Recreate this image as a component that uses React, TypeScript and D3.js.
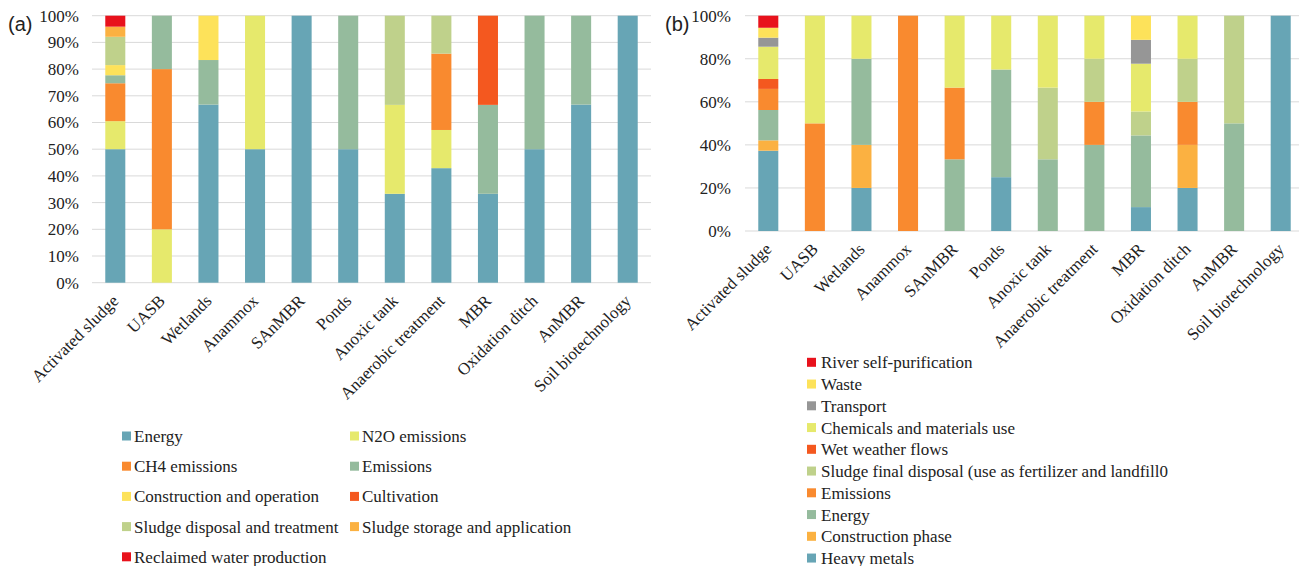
import React from "react";
import * as d3 from "d3";

const categories = [
  "Activated sludge", "UASB", "Wetlands", "Anammox", "SAnMBR", "Ponds",
  "Anoxic tank", "Anaerobic treatment", "MBR", "Oxidation ditch", "AnMBR", "Soil biotechnology",
];

// Panel (a) series, bottom to top
const aEnergy = [50, 0, 66.7, 50, 100, 50, 33.3, 42.9, 33.3, 50, 66.7, 100];
const aN2O = [10.5, 20, 0, 50, 0, 0, 33.3, 14.3, 0, 0, 0, 0];
const aCH4 = [14.2, 60, 0, 0, 0, 0, 0, 28.6, 0, 0, 0, 0];
const aEmissions = [3, 20, 16.7, 0, 0, 50, 0, 0, 33.3, 50, 33.3, 0];
const aConstruction = [3.8, 0, 16.6, 0, 0, 0, 0, 0, 0, 0, 0, 0];
const aCultivation = [0, 0, 0, 0, 0, 0, 0, 0, 33.4, 0, 0, 0];
const aSludgeDisposal = [10.6, 0, 0, 0, 0, 0, 33.4, 14.2, 0, 0, 0, 0];
const aSludgeStorage = [3.8, 0, 0, 0, 0, 0, 0, 0, 0, 0, 0, 0];
const aReclaimed = [4.1, 0, 0, 0, 0, 0, 0, 0, 0, 0, 0, 0];

// Panel (b) series, bottom to top
const bHeavyMetals = [37.3, 0, 20, 0, 0, 25, 0, 0, 11.1, 20, 0, 100];
const bConstruction = [4.8, 0, 20, 0, 0, 0, 0, 0, 0, 20, 0, 0];
const bEnergy = [14.1, 0, 40, 0, 33.3, 50, 33.3, 40, 33.3, 0, 50, 0];
const bEmissions = [9.8, 50, 0, 100, 33.3, 0, 0, 20, 0, 20, 0, 0];
const bSludgeFinal = [0, 0, 0, 0, 0, 0, 33.3, 20, 11.1, 20, 50, 0];
const bWetWeather = [4.6, 0, 0, 0, 0, 0, 0, 0, 0, 0, 0, 0];
const bChemicals = [15, 50, 20, 0, 33.4, 25, 33.4, 20, 22.2, 20, 0, 0];
const bTransport = [4.2, 0, 0, 0, 0, 0, 0, 0, 11.1, 0, 0, 0];
const bWaste = [4.6, 0, 0, 0, 0, 0, 0, 0, 11.2, 0, 0, 0];
const bRiver = [5.6, 0, 0, 0, 0, 0, 0, 0, 0, 0, 0, 0];

const aTicks = [0, 10, 20, 30, 40, 50, 60, 70, 80, 90, 100];
const bTicks = [0, 20, 40, 60, 80, 100];

const C = {
  teal: "#67a5b5",
  n2o: "#e6e96c",
  orange: "#f98a2f",
  sage: "#95bb9d",
  yellow: "#fde25a",
  redOrange: "#f4581f",
  lightGreen: "#bfd18b",
  lightOrange: "#fbb141",
  red: "#e8121c",
  gray: "#969696",
};

const aSeries = [
  { name: "Energy", values: aEnergy, color: C.teal },
  { name: "N2O emissions", values: aN2O, color: C.n2o },
  { name: "CH4 emissions", values: aCH4, color: C.orange },
  { name: "Emissions", values: aEmissions, color: C.sage },
  { name: "Construction and operation", values: aConstruction, color: C.yellow },
  { name: "Cultivation", values: aCultivation, color: C.redOrange },
  { name: "Sludge disposal and treatment", values: aSludgeDisposal, color: C.lightGreen },
  { name: "Sludge storage and application", values: aSludgeStorage, color: C.lightOrange },
  { name: "Reclaimed water production", values: aReclaimed, color: C.red },
];

const bSeries = [
  { name: "Heavy metals", values: bHeavyMetals, color: C.teal },
  { name: "Construction phase", values: bConstruction, color: C.lightOrange },
  { name: "Energy", values: bEnergy, color: C.sage },
  { name: "Emissions", values: bEmissions, color: C.orange },
  { name: "Sludge final disposal (use as fertilizer and landfill0", values: bSludgeFinal, color: C.lightGreen },
  { name: "Wet weather flows", values: bWetWeather, color: C.redOrange },
  { name: "Chemicals and materials use", values: bChemicals, color: C.n2o },
  { name: "Transport", values: bTransport, color: C.gray },
  { name: "Waste", values: bWaste, color: C.yellow },
  { name: "River self-purification", values: bRiver, color: C.red },
];

const FONT = "'Liberation Serif', 'Times New Roman', serif";

type Series = { name: string; values: number[]; color: string };

function Panel({ series, ticks, x0, x1, yTop, yBottom, tickRight }: {
  series: Series[]; ticks: number[]; x0: number; x1: number; yTop: number; yBottom: number; tickRight: number;
}) {
  const x = d3.scaleBand<string>().domain(categories).range([x0, x1]).paddingInner(0.57).paddingOuter(0.285);
  const y = d3.scaleLinear().domain([0, 100]).range([yBottom, yTop]);
  const table = categories.map((c, i) => {
    const row: Record<string, number | string> = { cat: c };
    series.forEach((s) => (row[s.name] = s.values[i]));
    return row;
  });
  const stack = d3.stack<Record<string, number | string>>().keys(series.map((s) => s.name))
    .value((d, k) => d[k] as number);
  const layers = stack(table);
  return (
    <g>
      {ticks.map((t) => (
        <g key={t}>
          <line x1={x0} x2={Math.min(x1, 1299)} y1={y(t)} y2={y(t)} stroke="#d9d9d9" strokeWidth={1} />
          <text x={tickRight} y={y(t)} dy="0.35em" textAnchor="end" style={{ fontFamily: FONT }} fontSize={17} fill="#222">
            {t}%
          </text>
        </g>
      ))}
      {layers.map((layer, li) => (
        <g key={li}>
          {layer.map((d, i) =>
            d[1] - d[0] > 0 ? (
              <rect key={i} x={x(categories[i])} width={x.bandwidth()} y={y(d[1])} height={y(d[0]) - y(d[1])}
                fill={series[li].color} />
            ) : null
          )}
        </g>
      ))}
      {categories.map((c) => {
        const cx = (x(c) as number) + x.bandwidth() / 2;
        return (
          <text key={c} transform={`translate(${cx},${yBottom + 15}) rotate(-45)`} textAnchor="end"
            dy="0.35em" style={{ fontFamily: FONT }} fontSize={17} fill="#222">
            {c}
          </text>
        );
      })}
    </g>
  );
}

export default function App() {
  const aLegend = aSeries;
  const bLegend = [...bSeries].reverse();
  return (
    <svg width={1299} height={566} style={{ position: "absolute", left: 0, top: 0, background: "#fff" }}>
      <rect width={1299} height={566} fill="#fff" />
      <Panel series={aSeries} ticks={aTicks} x0={92} x1={651} yTop={15.7} yBottom={282.7} tickRight={79} />
      <Panel series={bSeries} ticks={bTicks} x0={745} x1={1304} yTop={15.7} yBottom={231} tickRight={731} />
      <text x={8} y={31} style={{ fontFamily: "'Liberation Sans', Arial, sans-serif" }} fontSize={20} fill="#222">(a)</text>
      <text x={665} y={31} style={{ fontFamily: "'Liberation Sans', Arial, sans-serif" }} fontSize={20} fill="#222">(b)</text>
      {aLegend.map((s, i) => {
        const col = i % 2;
        const row = Math.floor(i / 2);
        const sx = col === 0 ? 122 : 350;
        const cy = 436 + row * 30.2;
        return (
          <g key={s.name}>
            <rect x={sx} y={cy - 4.5} width={9} height={9} fill={s.color} />
            <text x={sx + 12} y={cy} dy="0.35em" style={{ fontFamily: FONT }} fontSize={17} fill="#222">{s.name}</text>
          </g>
        );
      })}
      {bLegend.map((s, i) => {
        const cy = 362.3 + i * 21.75;
        return (
          <g key={s.name}>
            <rect x={807} y={cy - 4.5} width={9} height={9} fill={s.color} />
            <text x={821} y={cy} dy="0.35em" style={{ fontFamily: FONT }} fontSize={17} fill="#222">{s.name}</text>
          </g>
        );
      })}
    </svg>
  );
}
